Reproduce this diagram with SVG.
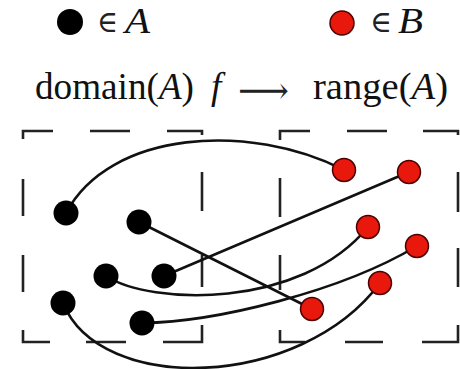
<svg xmlns="http://www.w3.org/2000/svg" width="460" height="369" viewBox="0 0 460 369">
  <style>
    .txt { font-family: "Liberation Serif", "DejaVu Serif", serif; fill: #111; }
    .it { font-style: italic; }
    .sym { font-family: "DejaVu Serif", "Liberation Serif", serif; fill: #222; }
    .dash { fill: none; stroke: #222; stroke-width: 2.6; }
    .conn { fill: none; stroke: #111; stroke-width: 2.6; stroke-linecap: round; }
    .a { fill: #000; }
    .b { fill: #e8180d; stroke: #4a0000; stroke-width: 1.5; }
  </style>
  <rect width="460" height="369" fill="#fff"/>

  <g id="legend">
    <circle class="a" cx="70" cy="22" r="13"/>
    <text class="sym" x="97" y="32" font-size="30" textLength="21" lengthAdjust="spacingAndGlyphs">∈</text>
    <text class="txt it" x="125" y="32.5" font-size="35" textLength="25" lengthAdjust="spacingAndGlyphs">A</text>
    <circle class="b" cx="342" cy="23" r="12"/>
    <text class="sym" x="370" y="32" font-size="30" textLength="22" lengthAdjust="spacingAndGlyphs">∈</text>
    <text class="txt it" x="398" y="32.5" font-size="35" textLength="25" lengthAdjust="spacingAndGlyphs">B</text>
  </g>

  <g id="titles">
    <text class="txt" x="35" y="99" font-size="37" textLength="159" lengthAdjust="spacingAndGlyphs">domain(<tspan class="it">A</tspan>)</text>
    <text class="txt it" x="211" y="99" font-size="37">f</text>
    <text class="sym" x="238" y="103" font-size="37" textLength="51" lengthAdjust="spacingAndGlyphs">⟶</text>
    <text class="txt" x="313" y="99" font-size="37" textLength="135" lengthAdjust="spacingAndGlyphs">range(<tspan class="it">A</tspan>)</text>
  </g>

  <g id="domain-box">
    <path class="dash" d="M23 139V131H53M90 131H130M167 131H202V135M23 179V216M23 255V292M202 172V211M202 255V287M23 330V342H50M86 342H126M163 342H202V325"/>
  </g>
  <g id="range-box">
    <path class="dash" d="M280 140V131H310M347 131H387M423 131H458V135M280 178V217M280 255V290M458 172V212M458 248V287M280 330V342H305M345 342H383M422 342H458V325"/>
  </g>

  <g id="connectors">
    <path class="conn" d="M66 213C110 130 250 122 344 170"/>
    <path class="conn" d="M139 222L312 309"/>
    <path class="conn" d="M164 276L409 172"/>
    <path class="conn" d="M106 276C150 305 300 310 368 227"/>
    <path class="conn" d="M142 323C215 322 340 292 417 246"/>
    <path class="conn" d="M63 303C100 395 300 390 380 283"/>
  </g>

  <g id="a1"><circle class="a" cx="66" cy="213" r="12.5"/></g>
  <g id="a2"><circle class="a" cx="139" cy="222" r="12.5"/></g>
  <g id="a3"><circle class="a" cx="106" cy="276" r="12.5"/></g>
  <g id="a4"><circle class="a" cx="164" cy="276" r="12.5"/></g>
  <g id="a5"><circle class="a" cx="63" cy="303" r="12.5"/></g>
  <g id="a6"><circle class="a" cx="142" cy="323" r="12.5"/></g>

  <g id="b1"><circle class="b" cx="344" cy="170" r="11.5"/></g>
  <g id="b2"><circle class="b" cx="409" cy="172" r="11.5"/></g>
  <g id="b3"><circle class="b" cx="368" cy="227" r="11.5"/></g>
  <g id="b4"><circle class="b" cx="417" cy="246" r="11.5"/></g>
  <g id="b5"><circle class="b" cx="380" cy="283" r="11.5"/></g>
  <g id="b6"><circle class="b" cx="312" cy="309" r="11.5"/></g>
</svg>
